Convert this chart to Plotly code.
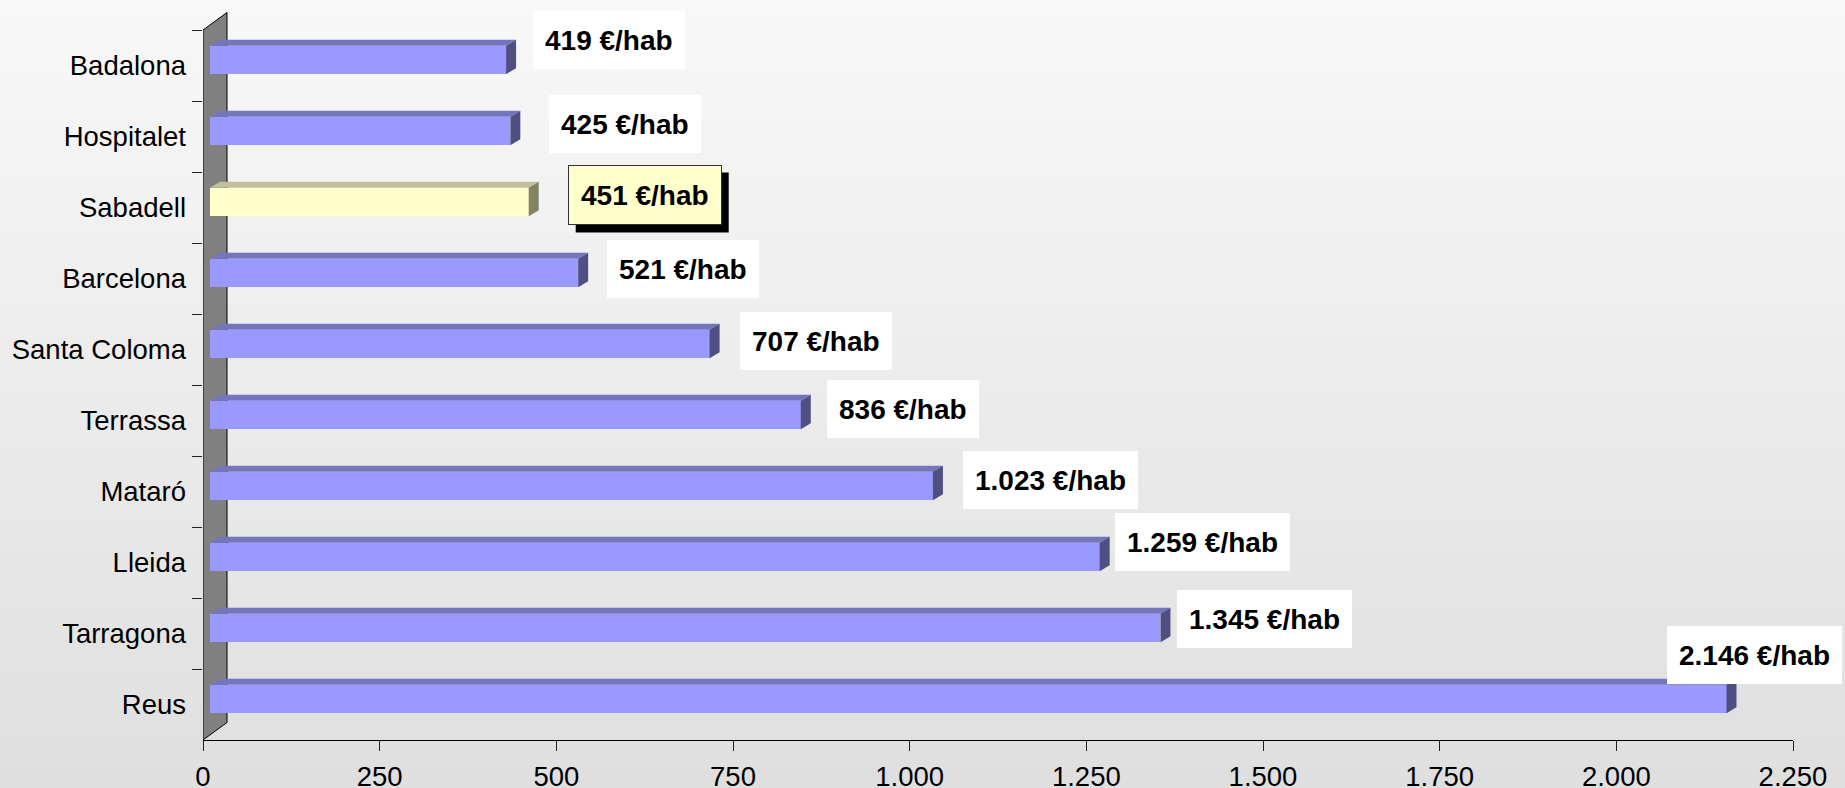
import plotly.graph_objects as go

# ---------------- data ----------------
cities = ["Badalona", "Hospitalet", "Sabadell", "Barcelona", "Santa Coloma",
          "Terrassa", "Mataró", "Lleida", "Tarragona", "Reus"]
values = [419, 425, 451, 521, 707, 836, 1023, 1259, 1345, 2146]
x_tick_vals = [0, 250, 500, 750, 1000, 1250, 1500, 1750, 2000, 2250]
highlight_city = "Sabadell"
unit_suffix = " €/hab"

# label placement (pixel offsets relative to value / category centre)
label_dx = [34, 46, 46, 36, 37, 33, 37, 22, 24, -53]
label_dy = [26, 13, 13, 10, 9, 12, 12, 21, 15, 50]

# ---------------- geometry / style ----------------
W, H = 1845, 788
M_L, M_R, M_T, M_B = 203, 52, 12, 48
X_MAX = 2250
px_per_unit = (W - M_L - M_R) / X_MAX
PH = H - M_T - M_B
y_bot = len(cities) - 0.5
cat_px = 71.0
y_top = y_bot - PH / cat_px

FONT = "Liberation Sans, Arial, sans-serif"
bar_front = "#9999ff"
bar_top = "#7575bd"
bar_side = "#4f4f82"
hi_front = "#ffffcc"
hi_top = "#c0c09c"
hi_side = "#828264"

base_units = 7 / px_per_unit          # bar sits slightly behind the front plane
depth_dx = 10 / px_per_unit           # bar depth in x units
depth_dy = 6 / cat_px                 # bar depth in category units
bar_w = 0.40
bar_shift = 5.5 / cat_px
bar_offset = -bar_w / 2 - bar_shift

SHADOW_OFF = 8       # px offset of the highlighted label's drop shadow
HI_BOX_W = 153       # px width of the highlighted label box
HI_BOX_H = 60        # px height of the highlighted label box

front_colors = [hi_front if c == highlight_city else bar_front for c in cities]

fig = go.Figure()
fig.add_trace(go.Bar(
    y=cities, x=values, base=[base_units] * len(values), orientation="h",
    width=bar_w, offset=bar_offset,
    marker=dict(color=front_colors, line=dict(width=0)),
    hoverinfo="skip", showlegend=False,
))

shapes = []

# background gradient (paper-referenced bands)
n_bands = 80
for i in range(n_bands):
    t = i / (n_bands - 1)
    g = round(248 - (248 - 223) * t)
    y0_px = H * i / n_bands - (20 if i == 0 else 0)
    y1_px = H * (i + 1) / n_bands + (20 if i == n_bands - 1 else 1)
    p0 = 1 - (y0_px - M_T) / PH
    p1 = 1 - (y1_px - M_T) / PH
    shapes.append(dict(type="rect", xref="paper", yref="paper",
                       x0=-0.5, x1=1.5, y0=p1, y1=p0,
                       fillcolor=f"rgb({g},{g},{g})", line=dict(width=0),
                       layer="below"))

# side wall
wall_dx = 24 / px_per_unit
wall_dy = 17.5 / cat_px
shapes.append(dict(
    type="path", xref="x", yref="y", layer="below",
    path=(f"M0,{-0.5} L{wall_dx},{-0.5 - wall_dy} "
          f"L{wall_dx},{y_bot - wall_dy} L0,{y_bot} Z"),
    fillcolor="#808080", line=dict(color="black", width=1),
))

# 3D faces of the bars
for k, (c, v) in enumerate(zip(cities, values)):
    x0 = base_units
    x1 = base_units + v
    yt = k + bar_offset
    yb = k + bar_offset + bar_w
    top_c = hi_top if c == highlight_city else bar_top
    side_c = hi_side if c == highlight_city else bar_side
    shapes.append(dict(
        type="path", xref="x", yref="y", layer="above",
        path=(f"M{x0},{yt} L{x1},{yt} L{x1 + depth_dx},{yt - depth_dy} "
              f"L{x0 + depth_dx},{yt - depth_dy} Z"),
        fillcolor=top_c, line=dict(width=0)))
    shapes.append(dict(
        type="path", xref="x", yref="y", layer="above",
        path=(f"M{x1},{yt} L{x1 + depth_dx},{yt - depth_dy} "
              f"L{x1 + depth_dx},{yb - depth_dy} L{x1},{yb} Z"),
        fillcolor=side_c, line=dict(width=0)))

# data labels
annotations = []
for k, (c, v) in enumerate(zip(cities, values)):
    txt = f"{v:,}".replace(",", ".") + unit_suffix
    common = dict(x=v, y=c, xref="x", yref="y", xanchor="left", yanchor="middle",
                  showarrow=False, align="left", height=34, borderpad=12,
                  font=dict(family=FONT, size=28, color="black", weight="bold"))
    if c == highlight_city:
        # drop shadow as a pixel-sized rectangle anchored on the data point
        sx0 = label_dx[k] + SHADOW_OFF
        sy_c = label_dy[k] - SHADOW_OFF
        shapes.append(dict(
            type="rect", xref="x", yref="y", layer="above",
            xsizemode="pixel", ysizemode="pixel", xanchor=v, yanchor=k,
            x0=sx0, x1=sx0 + HI_BOX_W,
            y0=sy_c - HI_BOX_H / 2, y1=sy_c + HI_BOX_H / 2,
            fillcolor="black", line=dict(width=0)))
        annotations.append(dict(text=txt, xshift=label_dx[k], yshift=label_dy[k],
                                bgcolor=hi_front, bordercolor="#333333", borderwidth=1,
                                **common))
    else:
        annotations.append(dict(text=txt, xshift=label_dx[k], yshift=label_dy[k],
                                bgcolor="white", borderwidth=0, **common))

fig.update_layout(
    width=W, height=H,
    margin=dict(l=M_L, r=M_R, t=M_T, b=M_B, pad=0, autoexpand=False),
    paper_bgcolor="#ebebeb", plot_bgcolor="rgba(0,0,0,0)",
    separators=",.",
    shapes=shapes, annotations=annotations,
    bargap=0,
    xaxis=dict(range=[0, X_MAX], tickvals=x_tick_vals, tickformat=",d",
               automargin=False,
               showgrid=False, zeroline=False,
               showline=True, linecolor="black", linewidth=1,
               ticks="outside", ticklen=10, tickcolor="#222222", tickwidth=1,
               ticklabelstandoff=2,
               tickfont=dict(family=FONT, size=27.5, color="black")),
    yaxis=dict(type="category", categoryorder="array", categoryarray=cities,
               range=[y_bot, y_top], tickson="boundaries", automargin=False,
               showgrid=False, zeroline=False, showline=False,
               ticks="outside", ticklen=10, tickcolor="#222222", tickwidth=1,
               ticklabelstandoff=16,
               tickfont=dict(family=FONT, size=27.5, color="black")),
)

fig.write_html(
    "out.html",
    config={"displayModeBar": False},
    post_script="document.body.style.margin='0';document.body.style.padding='0';"
                "document.body.style.overflow='hidden';",
)
